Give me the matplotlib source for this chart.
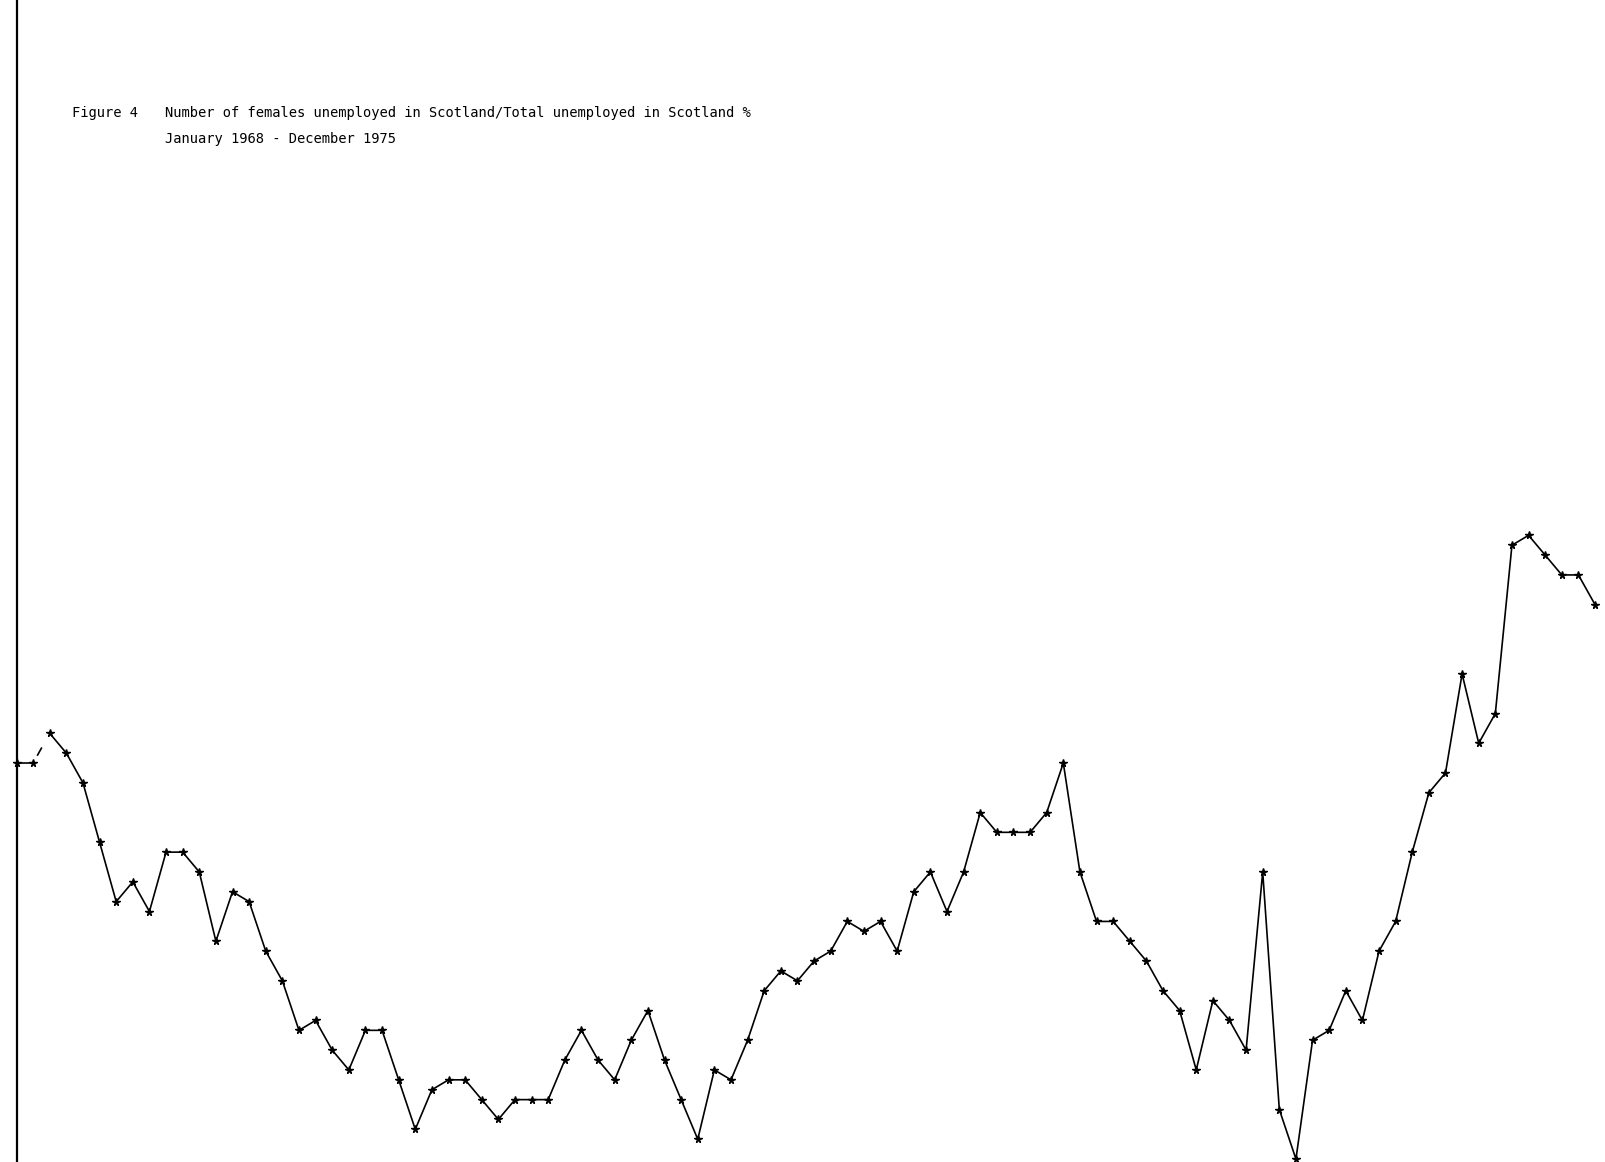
import matplotlib.pyplot as plt
import numpy as np

# Female share of Scottish unemployed (%), monthly Jan 1968 - Dec 1975
years = [1968, 1969, 1970, 1971, 1972, 1973, 1974, 1975]
female_share = [
    20.0, 20.0, 20.3, 20.1, 19.8, 19.2, 18.6, 18.8, 18.5, 19.1, 19.1, 18.9,
    18.2, 18.7, 18.6, 18.1, 17.8, 17.3, 17.4, 17.1, 16.9, 17.3, 17.3, 16.8,
    16.3, 16.7, 16.8, 16.8, 16.6, 16.4, 16.6, 16.6, 16.6, 17.0, 17.3, 17.0,
    16.8, 17.2, 17.5, 17.0, 16.6, 16.2, 16.9, 16.8, 17.2, 17.7, 17.9, 17.8,
    18.0, 18.1, 18.4, 18.3, 18.4, 18.1, 18.7, 18.9, 18.5, 18.9, 19.5, 19.3,
    19.3, 19.3, 19.5, 20.0, 18.9, 18.4, 18.4, 18.2, 18.0, 17.7, 17.5, 16.9,
    17.6, 17.4, 17.1, 18.9, 16.5, 16.0, 17.2, 17.3, 17.7, 17.4, 18.1, 18.4,
    19.1, 19.7, 19.9, 20.9, 20.2, 20.5, 22.2, 22.3, 22.1, 21.9, 21.9, 21.6,
]

months = np.arange(len(female_share))
share = np.array(female_share)

W, H = 1605, 1162
fig = plt.figure(figsize=(W / 100, H / 100), dpi=100)
ax = fig.add_axes([16.5 / W, 0, 1 - 16.5 / W, 1])

line_kw = dict(color="black", lw=1.2, marker="*", ms=5.5, clip_on=False)

# the pen skipped between the 2nd and 3rd month, leaving only a short stub
ax.plot(months[:2], share[:2], **line_kw)
ax.plot(months[2:], share[2:], **line_kw)
t = np.array([0.27, 0.5])
ax.plot(months[1] + t * (months[2] - months[1]),
        share[1] + t * (share[2] - share[1]),
        color="black", lw=1.2)

ax.set_xlim(0, 95.6)
ax.set_ylim(15.97, 15.97 + H / 99)

for side in ["top", "right", "bottom"]:
    ax.spines[side].set_visible(False)
ax.spines["left"].set_linewidth(1.6)
ax.set_xticks([])
ax.set_yticks([])

mono = ["DejaVu Sans Mono"]
fig.text(71.5 / W, 1 - 113 / H, "Figure 4", family=mono, fontsize=9.9,
         va="center", ha="left")
fig.text(165 / W, 1 - 113 / H,
         "Number of females unemployed in Scotland/Total unemployed in Scotland %",
         family=mono, fontsize=9.9, va="center", ha="left")
fig.text(165 / W, 1 - 139 / H,
         f"January {years[0]} - December {years[-1]}",
         family=mono, fontsize=9.9, va="center", ha="left")

fig.savefig("out.png", dpi=100)
